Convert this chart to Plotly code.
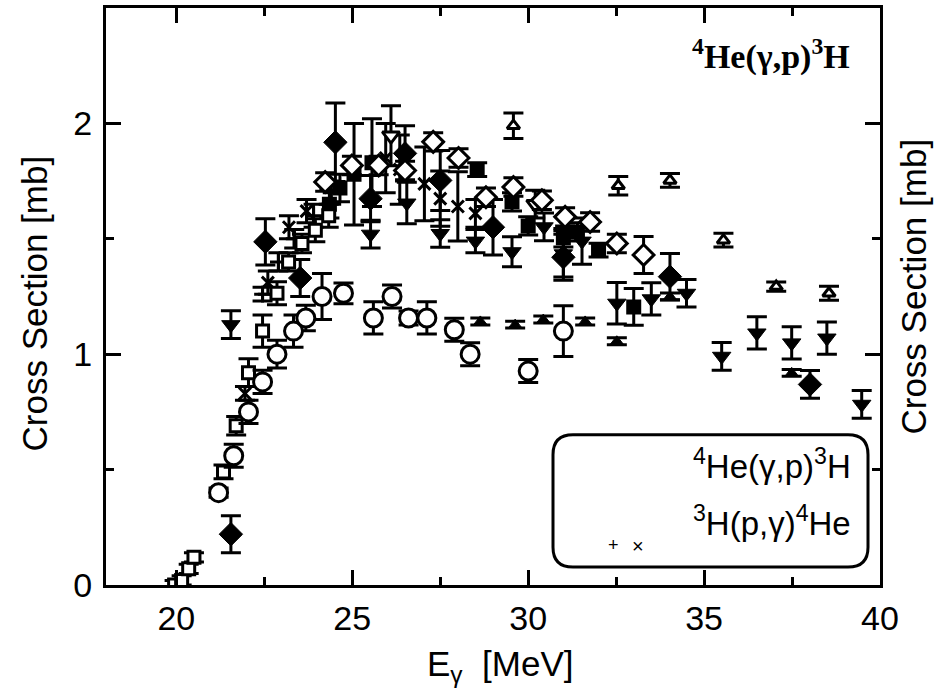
import plotly.graph_objects as go

# ---------------- data ----------------
circ_x = [21.2, 21.63, 22.05, 22.45, 22.86, 23.33, 23.68, 24.14, 24.75, 25.6, 26.13, 26.6, 27.12, 27.9, 28.35, 30.0, 31.0]
circ_y = [0.40, 0.56, 0.75, 0.88, 1.00, 1.10, 1.157, 1.25, 1.264, 1.157, 1.25, 1.157, 1.157, 1.106, 1.00, 0.927, 1.10]
circ_e = [0.02, 0.05, 0.05, 0.05, 0.06, 0.07, 0.055, 0.10, 0.045, 0.07, 0.05, 0.03, 0.07, 0.05, 0.05, 0.05, 0.11]

sq_x = [19.95, 20.15, 20.35, 20.5, 21.34, 21.7, 22.05, 22.45, 22.86, 23.19, 23.57, 23.95, 24.33]
sq_y = [0.0, 0.02, 0.07, 0.12, 0.49, 0.69, 0.92, 1.10, 1.264, 1.40, 1.48, 1.537, 1.60]
sq_e = [0.02, 0.02, 0.02, 0.02, 0.03, 0.04, 0.06, 0.07, 0.05, 0.04, 0.04, 0.05, 0.05]

fd_x = [21.55, 22.53, 23.52, 24.52, 25.52, 26.5, 27.5, 29.0, 31.0, 34.03, 38.01]
fd_y = [0.22, 1.487, 1.33, 1.918, 1.674, 1.87, 1.753, 1.55, 1.42, 1.336, 0.869]
fd_e = [0.08, 0.10, 0.08, 0.17, 0.10, 0.12, 0.13, 0.12, 0.10, 0.10, 0.06]

od_x = [24.23, 24.99, 25.75, 26.5, 27.3, 28.02, 28.8, 29.58, 30.39, 31.05, 31.76, 32.52, 33.28]
od_y = [1.746, 1.818, 1.818, 1.796, 1.92, 1.85, 1.68, 1.724, 1.667, 1.595, 1.573, 1.48, 1.43]
od_e = [0.04, 0.04, 0.04, 0.04, 0.04, 0.04, 0.04, 0.04, 0.04, 0.04, 0.04, 0.04, 0.08]

fdt_x = [21.55, 25.52, 26.55, 27.5, 28.5, 29.54, 30.45, 31.0, 31.53, 32.52, 33.5, 34.5, 35.5, 36.5, 37.49, 38.49, 39.48]
fdt_y = [1.128, 1.52, 1.655, 1.523, 1.49, 1.444, 1.552, 1.435, 1.49, 1.221, 1.24, 1.264, 0.991, 1.092, 1.049, 1.07, 0.783]
fdt_e = [0.06, 0.06, 0.09, 0.06, 0.05, 0.065, 0.06, 0.10, 0.10, 0.09, 0.07, 0.06, 0.06, 0.07, 0.07, 0.07, 0.06]

fut_x = [28.64, 29.63, 30.43, 31.62, 32.52, 34.03, 37.49]
fut_y = [1.142, 1.128, 1.15, 1.142, 1.056, 1.25, 0.919]
fut_e = [0.015, 0.015, 0.015, 0.015, 0.015, 0.015, 0.015]

out_x = [29.58, 32.56, 34.03, 35.55, 37.05, 38.55]
out_y = [1.99, 1.73, 1.753, 1.494, 1.293, 1.264]
out_e = [0.055, 0.04, 0.03, 0.03, 0.02, 0.03]

fs_x = [24.35, 24.65, 25.05, 25.56, 28.55, 29.54, 30.0, 31.0, 31.4, 32.0, 33.0]
fs_y = [1.65, 1.72, 1.78, 1.83, 1.80, 1.66, 1.556, 1.505, 1.53, 1.451, 1.205]
fs_e = [0.06, 0.06, 0.22, 0.19, 0.03, 0.04, 0.04, 0.04, 0.04, 0.03, 0.08]

cr_x = [21.95, 22.6, 23.2, 23.7, 25.95, 26.35, 27.05, 27.5, 28.0, 28.5]
cr_y = [0.83, 1.31, 1.55, 1.62, 1.85, 1.80, 1.738, 1.674, 1.64, 1.61]
cr_e = [0.03, 0.05, 0.05, 0.05, 0.15, 0.15, 0.16, 0.12, 0.15, 0.06]

pl_x = [22.45, 22.9, 23.35, 23.9, 24.4]
pl_y = [1.26, 1.40, 1.50, 1.60, 1.70]
pl_e = [0.03, 0.04, 0.04, 0.05, 0.05]

odt_x = [26.1, 30.2]
odt_y = [1.947, 1.65]
odt_e = [0.13, 0.06]

x_ticks = [20, 25, 30, 35, 40]
y_ticks = [0, 1, 2]

# ---------------- figure ----------------
fig = go.Figure()

def add(xs, ys, es, symbol, size, fill, lw=3):
    fig.add_trace(go.Scatter(
        x=xs, y=ys, mode="markers",
        error_y=dict(type="data", array=es, visible=True, color="black", thickness=3, width=10),
        marker=dict(symbol=symbol, size=size, color=fill, line=dict(color="black", width=lw)),
        showlegend=False, cliponaxis=True))

add(fs_x, fs_y, fs_e, "square", 12, "black")
add(cr_x, cr_y, cr_e, "x-thin", 12, "black")
add(pl_x, pl_y, pl_e, "cross-thin", 12, "black")
add(fdt_x, fdt_y, fdt_e, "triangle-down", 16, "black", 1)
add(odt_x, odt_y, odt_e, "triangle-down", 15, "white")
add(fut_x, fut_y, fut_e, "triangle-up", 11, "black", 1)
add(out_x, out_y, out_e, "triangle-up", 11, "white")
add(fd_x, fd_y, fd_e, "diamond", 18, "black", 1)
add(od_x, od_y, od_e, "diamond", 16, "white")
add(sq_x, sq_y, sq_e, "square", 12, "white")
add(circ_x, circ_y, circ_e, "circle", 18, "white")

FONT = "Liberation Sans"
FS_TICK = 34
FS_TITLE = 35
axis_common = dict(showgrid=False, zeroline=False, showline=True, linewidth=3, linecolor="black",
                   mirror="ticks", ticks="inside", ticklen=15, tickwidth=3, tickcolor="black",
                   tickfont=dict(family=FONT, size=FS_TICK, color="black"))

fig.update_layout(
    width=937, height=697,
    margin=dict(l=106, r=57, t=5, b=112),
    paper_bgcolor="white", plot_bgcolor="white",
    xaxis=dict(range=[18, 40], tickmode="array", tickvals=x_ticks, ticklabelstandoff=1,
               minor=dict(tickvals=[22.5, 27.5, 32.5, 37.5], ticks="inside", ticklen=8, tickwidth=3, tickcolor="black"),
               **axis_common),
    yaxis=dict(range=[0, 2.5], tickmode="array", tickvals=y_ticks, ticklabelstandoff=4,
               minor=dict(tickvals=[0.5, 1.5], ticks="inside", ticklen=8, tickwidth=3, tickcolor="black"),
               **axis_common),
    showlegend=False,
)

def px2paper_x(px):
    return (px - 106) / 774.0

def px2paper_y(py):
    return (585 - py) / 580.0

# axis titles
fig.add_annotation(text="Cross Section [mb]", textangle=-90, xref="paper", yref="paper",
                   x=px2paper_x(34), y=px2paper_y(302), xanchor="center", yanchor="middle",
                   showarrow=False, font=dict(family=FONT, size=FS_TITLE, color="black"))
fig.add_annotation(text="Cross Section [mb]", textangle=-90, xref="paper", yref="paper",
                   x=px2paper_x(914), y=px2paper_y(285), xanchor="center", yanchor="middle",
                   showarrow=False, font=dict(family=FONT, size=FS_TITLE, color="black"))
fig.add_annotation(text="E<sub>γ</sub>  [MeV]", xref="paper", yref="paper",
                   x=px2paper_x(500), y=px2paper_y(666), xanchor="center", yanchor="middle",
                   showarrow=False, font=dict(family=FONT, size=FS_TITLE, color="black"))

# title inside plot
fig.add_annotation(text="<b><sup>4</sup>He(γ,p)<sup>3</sup>H</b>", xref="paper", yref="paper",
                   x=px2paper_x(852), y=px2paper_y(52), xanchor="right", yanchor="middle",
                   showarrow=False, font=dict(family="Liberation Serif", size=34, color="black"))

# legend box (rounded)
L, R, T, B, rad = 553, 868, 434, 567, 20
xl, xr = px2paper_x(L), px2paper_x(R)
yt, yb = px2paper_y(T), px2paper_y(B)
rx, ry = rad / 774.0, rad / 580.0
path = (f"M {xl+rx},{yt} L {xr-rx},{yt} Q {xr},{yt} {xr},{yt-ry} "
        f"L {xr},{yb+ry} Q {xr},{yb} {xr-rx},{yb} "
        f"L {xl+rx},{yb} Q {xl},{yb} {xl},{yb+ry} "
        f"L {xl},{yt-ry} Q {xl},{yt} {xl+rx},{yt} Z")
fig.add_shape(type="path", path=path, xref="paper", yref="paper",
              line=dict(color="black", width=3), fillcolor="white", layer="above")

fig.add_annotation(text="<sup>4</sup>He(γ,p)<sup>3</sup>H", xref="paper", yref="paper",
                   x=px2paper_x(853), y=px2paper_y(463), xanchor="right", yanchor="middle",
                   showarrow=False, font=dict(family=FONT, size=33, color="black"))
fig.add_annotation(text="<sup>3</sup>H(p,γ)<sup>4</sup>He", xref="paper", yref="paper",
                   x=px2paper_x(853), y=px2paper_y(521), xanchor="right", yanchor="middle",
                   showarrow=False, font=dict(family=FONT, size=33, color="black"))
fig.add_annotation(text="+", xref="paper", yref="paper",
                   x=px2paper_x(613), y=px2paper_y(545), xanchor="center", yanchor="middle",
                   showarrow=False, font=dict(family=FONT, size=18, color="black"))
fig.add_annotation(text="×", xref="paper", yref="paper",
                   x=px2paper_x(638), y=px2paper_y(546), xanchor="center", yanchor="middle",
                   showarrow=False, font=dict(family=FONT, size=20, color="black"))

fig.write_html("out.html")
